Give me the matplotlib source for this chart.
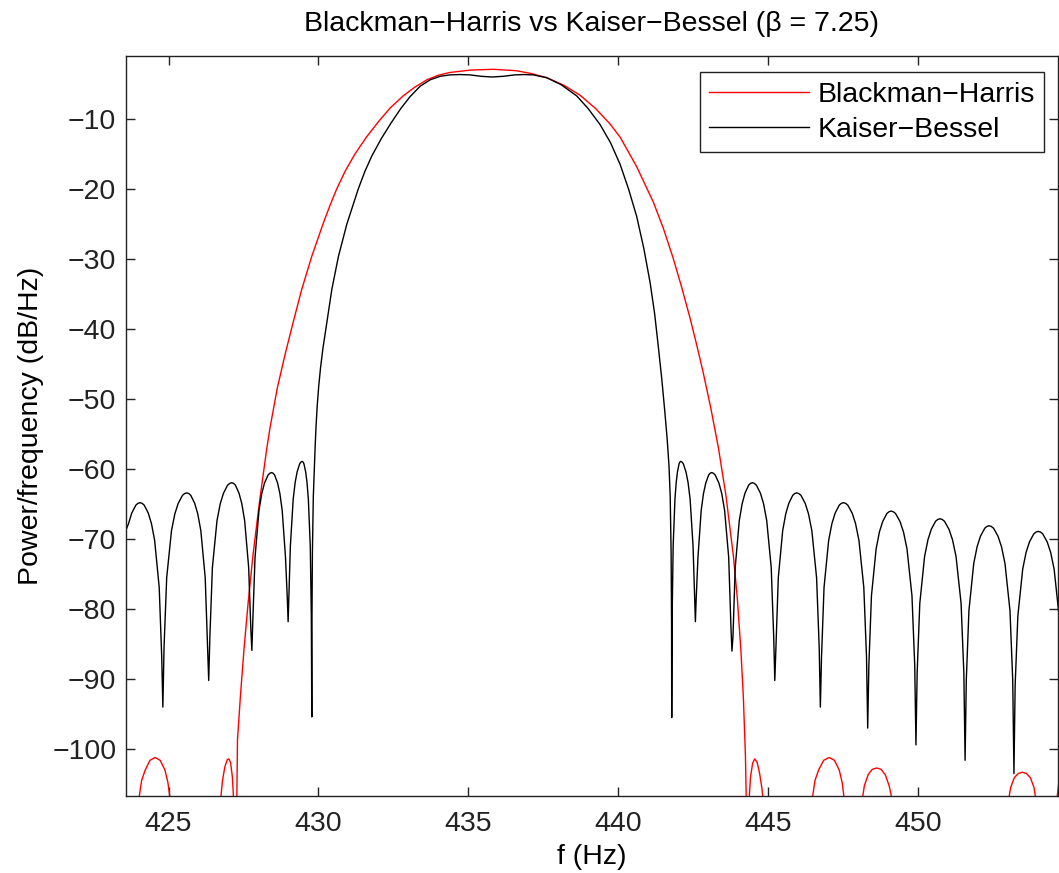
import matplotlib
matplotlib.use('Agg')
import matplotlib.pyplot as plt

plt.rcParams['font.family'] = ['Liberation Sans', 'DejaVu Sans']

title = 'Blackman\u2212Harris vs Kaiser\u2212Bessel (\u03b2 = 7.25)'
series_names = ['Blackman\u2212Harris', 'Kaiser\u2212Bessel']

# Blackman-Harris (red); values below the axis floor are clipped
bh_freq = [423.98, 424.10, 424.22, 424.38, 424.55, 424.72, 424.88, 424.98, 425.08, 425.90,
           426.72, 426.80, 426.88, 426.96, 427.01, 427.07, 427.13, 427.18, 427.22,
           427.27, 427.30, 427.40, 427.52, 427.66, 427.82, 428.04, 428.28, 428.39, 428.63,
           428.89, 429.16, 429.44, 429.78, 430.17, 430.40, 430.61, 430.90, 431.22, 431.60,
           432.00, 432.40, 432.83, 433.20, 433.62, 434.00, 434.39, 435.10, 435.84, 436.60,
           437.10, 437.62, 438.20, 438.73, 439.25, 439.73, 440.07, 440.62, 441.18, 441.51,
           441.84, 442.12, 442.40, 442.62, 442.84, 443.09, 443.35, 443.60, 443.85, 443.98,
           444.10, 444.18, 444.25, 444.29, 444.33,
           444.36, 444.42, 444.49, 444.56, 444.64, 444.72, 444.80, 444.86, 445.70,
           446.45, 446.57, 446.69, 446.86, 447.04, 447.22, 447.38, 447.48, 447.57, 447.85,
           448.12, 448.22, 448.35, 448.48, 448.63, 448.78, 448.92, 449.05, 449.18, 451.00,
           453.00, 453.10, 453.22, 453.35, 453.49, 453.63, 453.76, 453.88, 453.97, 454.30,
           454.62, 454.72, 454.80]
bh_db = [-108, -104.5, -103.0, -101.6, -101.2, -101.6, -103.0, -104.8, -108, -130,
         -108, -104.5, -102.5, -101.5, -101.4, -101.9, -104.0, -108, -125,
         -110, -98.7, -92.3, -85.6, -78.9, -72.2, -64.5, -57.0, -54.0, -48.4,
         -43.6, -39.0, -34.4, -29.6, -24.8, -22.2, -20.0, -17.4, -15.0, -12.6,
         -10.4, -8.4, -6.7, -5.5, -4.4, -3.75, -3.35, -3.0, -2.9, -3.1,
         -3.5, -4.1, -5.2, -6.6, -8.5, -10.7, -12.6, -16.8, -21.9, -25.6,
         -29.9, -34.0, -38.4, -42.2, -46.2, -51.2, -57.0, -63.8, -72.5, -78.5,
         -86.0, -92.5, -101.0, -110, -125,
         -108, -104.0, -102.0, -101.4, -101.9, -103.4, -105.6, -108, -130,
         -108, -104.5, -103.0, -101.6, -101.2, -101.6, -103.0, -104.8, -108, -130,
         -108, -105.2, -103.6, -102.9, -102.7, -102.9, -103.7, -105.3, -108, -130,
         -108, -105.5, -104.1, -103.5, -103.3, -103.5, -104.1, -105.5, -108, -130,
         -108, -104.3, -102.5]

# Kaiser-Bessel (black)
kb_freq = [423.58, 423.665, 423.77, 423.91, 423.98, 424.05, 424.118, 424.187, 424.324, 424.43, 424.536, 424.688, 424.772, 424.81,
           424.85, 424.938, 425.098, 425.21, 425.322, 425.466, 425.538, 425.61, 425.676, 425.741, 425.873, 425.975, 426.077, 426.223, 426.304, 426.34,
           426.379, 426.463, 426.617, 426.725, 426.833, 426.971, 427.041, 427.11, 427.17, 427.231, 427.351, 427.445, 427.539, 427.673, 427.747, 427.78,
           427.813, 427.886, 428.018, 428.11, 428.202, 428.321, 428.381, 428.44, 428.49, 428.539, 428.638, 428.715, 428.792, 428.902, 428.963, 428.99,
           429.014, 429.065, 429.159, 429.225, 429.291, 429.375, 429.418, 429.46, 429.489, 429.518, 429.575, 429.62, 429.665, 429.729, 429.764, 429.78,
           429.785, 429.80, 429.83, 429.86, 429.89, 429.92, 429.96, 430.01, 430.07, 430.15, 430.28, 430.45, 430.67, 430.95,
           431.33, 431.55, 431.78, 432.10, 432.42, 432.75, 433.06, 433.40, 433.73, 434.06, 434.39, 434.72, 435.06, 435.43,
           435.80, 436.17, 436.55, 436.86, 437.17, 437.62, 438.10, 438.62, 439.00, 439.40, 439.75, 440.07, 440.35, 440.62,
           440.86, 441.07, 441.22, 441.34, 441.46, 441.56, 441.64, 441.70, 441.74, 441.77, 441.785, 441.79,
           441.805, 441.838, 441.898, 441.94, 441.982, 442.036, 442.063, 442.09, 442.134, 442.178, 442.266, 442.335, 442.404, 442.502, 442.556, 442.58,
           442.607, 442.666, 442.774, 442.85, 442.926, 443.023, 443.071, 443.12, 443.181, 443.242, 443.365, 443.46, 443.555, 443.691, 443.766, 443.80,
           443.834, 443.909, 444.045, 444.14, 444.235, 444.358, 444.419, 444.48, 444.548, 444.615, 444.75, 444.855, 444.96, 445.11, 445.193, 445.23,
           445.267, 445.347, 445.493, 445.595, 445.697, 445.829, 445.894, 445.96, 446.031, 446.102, 446.244, 446.355, 446.466, 446.624, 446.711, 446.75,
           446.789, 446.873, 447.027, 447.135, 447.243, 447.381, 447.451, 447.52, 447.593, 447.666, 447.812, 447.925, 448.038, 448.20, 448.29, 448.33,
           448.369, 448.455, 448.611, 448.72, 448.829, 448.97, 449.04, 449.11, 449.185, 449.259, 449.409, 449.525, 449.641, 449.807, 449.899, 449.94,
           449.98, 450.068, 450.228, 450.34, 450.452, 450.596, 450.668, 450.74, 450.816, 450.891, 451.042, 451.16, 451.278, 451.446, 451.538, 451.58,
           451.62, 451.708, 451.868, 451.98, 452.092, 452.236, 452.308, 452.38, 452.455, 452.529, 452.679, 452.795, 452.911, 453.077, 453.169, 453.21,
           453.25, 453.34, 453.502, 453.615, 453.728, 453.874, 453.947, 454.02, 454.095, 454.169, 454.319, 454.435, 454.551, 454.717, 454.80]
kb_db = [-68.7, -67.8, -66.3, -65.15, -64.9, -64.8, -64.9, -65.15, -66.3, -67.8, -70.2, -76.9, -86.8, -94.0,
         -85.4, -75.5, -68.8, -66.4, -64.9, -63.75, -63.5, -63.4, -63.5, -63.75, -64.9, -66.4, -68.8, -75.5, -85.4, -90.2,
         -83.95, -74.05, -67.35, -64.95, -63.45, -62.3, -62.05, -61.95, -62.05, -62.3, -63.45, -64.95, -67.35, -74.05, -83.0, -85.9,
         -81.5, -72.6, -65.9, -63.5, -62.0, -60.85, -60.6, -60.5, -60.6, -60.85, -62.0, -63.5, -65.9, -72.6, -78.5, -81.8,
         -78.5, -71.0, -64.3, -61.9, -60.4, -59.25, -59.0, -58.9, -59.0, -59.25, -60.4, -61.9, -64.3, -71.0, -80.9, -95.4,
         -82.0, -72.0, -64.0, -60.5, -57.0, -54.0, -51.0, -48.2, -45.6, -42.8, -39.1, -34.3, -29.6, -25.0,
         -20.0, -17.5, -15.3, -12.8, -10.6, -8.5, -6.8, -5.3, -4.4, -3.9, -3.7, -3.65, -3.7, -3.9,
         -4.0, -3.9, -3.7, -3.65, -3.7, -4.1, -5.1, -6.7, -8.5, -10.8, -13.4, -16.5, -20.0, -23.9,
         -28.5, -33.4, -37.8, -42.4, -47.2, -51.8, -55.8, -59.6, -64.0, -72.0, -82.0, -95.5,
         -80.9, -71.0, -64.3, -61.9, -60.4, -59.25, -59.0, -58.9, -59.0, -59.25, -60.4, -61.9, -64.3, -71.0, -78.5, -81.8,
         -78.5, -72.6, -65.9, -63.5, -62.0, -60.85, -60.6, -60.5, -60.6, -60.85, -62.0, -63.5, -65.9, -72.6, -82.5, -86.0,
         -83.95, -74.05, -67.35, -64.95, -63.45, -62.3, -62.05, -61.95, -62.05, -62.3, -63.45, -64.95, -67.35, -74.05, -83.95, -90.2,
         -85.4, -75.5, -68.8, -66.4, -64.9, -63.75, -63.5, -63.4, -63.5, -63.75, -64.9, -66.4, -68.8, -75.5, -85.4, -94.0,
         -86.8, -76.9, -70.2, -67.8, -66.3, -65.15, -64.9, -64.8, -64.9, -65.15, -66.3, -67.8, -70.2, -76.9, -86.8, -97.0,
         -88.0, -78.1, -71.4, -69.0, -67.5, -66.35, -66.1, -66.0, -66.1, -66.35, -67.5, -69.0, -71.4, -78.1, -88.0, -99.4,
         -89.1, -79.2, -72.5, -70.1, -68.6, -67.45, -67.2, -67.1, -67.2, -67.45, -68.6, -70.1, -72.5, -79.2, -89.1, -101.6,
         -90.1, -80.2, -73.5, -71.1, -69.6, -68.45, -68.2, -68.1, -68.2, -68.45, -69.6, -71.1, -73.5, -80.2, -90.1, -103.5,
         -90.9, -81.0, -74.3, -71.9, -70.4, -69.25, -69.0, -68.9, -69.0, -69.25, -70.4, -71.9, -74.3, -81.0, -90.9]

xticks = [425, 430, 435, 440, 445, 450]
yticks = [-100, -90, -80, -70, -60, -50, -40, -30, -20, -10]

fig = plt.figure(figsize=(10.59, 8.73), dpi=100)
ax = fig.add_axes([126 / 1059, 77 / 873, 932 / 1059, 740 / 873])

ax.plot(bh_freq, bh_db, color='red', lw=1.0, label=series_names[0])
ax.plot(kb_freq, kb_db, color='black', lw=1.0, label=series_names[1])

ax.set_xlim(423.58, 454.68)
ax.set_ylim(-106.7, -1.0)
ax.set_xticks(xticks)
ax.set_yticks(yticks)
ax.tick_params(direction='in', top=True, right=True, length=6.5, width=1.0,
               labelsize=20.5, colors='#222222')
ax.tick_params(axis='x', pad=11)
ax.tick_params(axis='y', pad=7)
for s in ax.spines.values():
    s.set_linewidth(1.0)
    s.set_color('#222222')

ax.set_title(title, fontsize=20.5, pad=18)
ax.set_xlabel('f (Hz)', fontsize=20.5, labelpad=5)
ax.set_ylabel('Power/frequency (dB/Hz)', fontsize=20.5, labelpad=6)

leg = ax.legend(loc='upper right', bbox_to_anchor=(0.985, 0.978), borderaxespad=0,
                fontsize=20.5, handlelength=3.5, handletextpad=0.3, labelspacing=0.33,
                borderpad=0.33, fancybox=False, framealpha=1, edgecolor='#222222')
leg.get_frame().set_linewidth(1.0)

fig.savefig('out.png', dpi=100)
